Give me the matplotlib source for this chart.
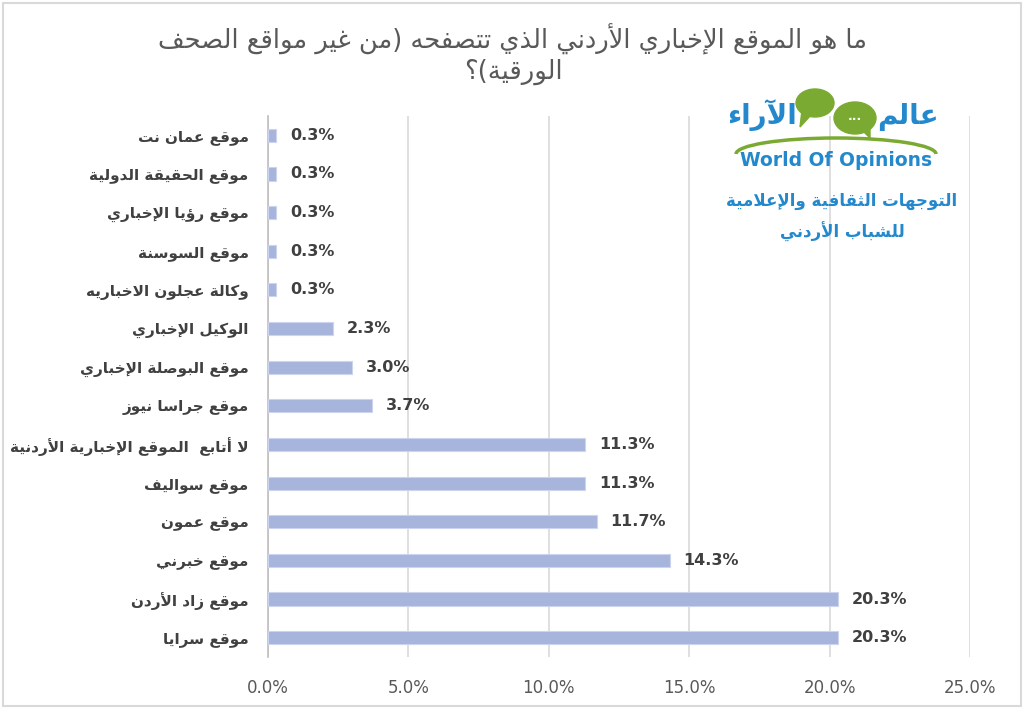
import numpy as np
import matplotlib.pyplot as plt
from matplotlib.patches import Ellipse, Polygon, Arc, Rectangle
from matplotlib.ticker import FuncFormatter

plt.rcParams['font.family'] = ['DejaVu Sans']

# data, top row first
sites = [
    "موقع عمان نت",
    "موقع الحقيقة الدولية",
    "موقع رؤيا الإخباري",
    "موقع السوسنة",
    "وكالة عجلون الاخباريه",
    "الوكيل الإخباري",
    "موقع البوصلة الإخباري",
    "موقع جراسا نيوز",
    "لا أتابع  الموقع الإخبارية الأردنية",
    "موقع سواليف",
    "موقع عمون",
    "موقع خبرني",
    "موقع زاد الأردن",
    "موقع سرايا",
]
shares = [0.3, 0.3, 0.3, 0.3, 0.3, 2.3, 3.0, 3.7, 11.3, 11.3, 11.7, 14.3, 20.3, 20.3]
xticks = [0, 5, 10, 15, 20, 25]

title_lines = ["ما هو الموقع الإخباري الأردني الذي تتصفحه (من غير مواقع الصحف",
               "الورقية)؟"]
logo_word1 = "عالم"
logo_word2 = "الآراء"
logo_en = "World Of Opinions"
sub_lines = ["التوجهات الثقافية والإعلامية", "للشباب الأردني"]


# matplotlib has no arabic shaping, so do it by hand with presentation forms
BASE = {
    'ء': (0xFE80, 1), 'آ': (0xFE81, 2), 'أ': (0xFE83, 2), 'ؤ': (0xFE85, 2),
    'إ': (0xFE87, 2), 'ئ': (0xFE89, 4), 'ا': (0xFE8D, 2), 'ب': (0xFE8F, 4),
    'ة': (0xFE93, 2), 'ت': (0xFE95, 4), 'ث': (0xFE99, 4), 'ج': (0xFE9D, 4),
    'ح': (0xFEA1, 4), 'خ': (0xFEA5, 4), 'د': (0xFEA9, 2), 'ذ': (0xFEAB, 2),
    'ر': (0xFEAD, 2), 'ز': (0xFEAF, 2), 'س': (0xFEB1, 4), 'ش': (0xFEB5, 4),
    'ص': (0xFEB9, 4), 'ض': (0xFEBD, 4), 'ط': (0xFEC1, 4), 'ظ': (0xFEC5, 4),
    'ع': (0xFEC9, 4), 'غ': (0xFECD, 4), 'ف': (0xFED1, 4), 'ق': (0xFED5, 4),
    'ك': (0xFED9, 4), 'ل': (0xFEDD, 4), 'م': (0xFEE1, 4), 'ن': (0xFEE5, 4),
    'ه': (0xFEE9, 4), 'و': (0xFEED, 2), 'ى': (0xFEEF, 2), 'ي': (0xFEF1, 4),
}
LAM_ALEF = {'ا': 0xFEFB, 'أ': 0xFEF7, 'إ': 0xFEF9, 'آ': 0xFEF5}


def nforms(c):
    if isinstance(c, tuple):
        return 2
    return BASE[c][1] if c in BASE else 0


def ar(text):
    chars = []
    i = 0
    while i < len(text):
        c = text[i]
        if c == 'ل' and i + 1 < len(text) and text[i + 1] in LAM_ALEF:
            chars.append(('LA', text[i + 1]))
            i += 2
        else:
            chars.append(c)
            i += 1
    out = []
    for k, c in enumerate(chars):
        prev = chars[k - 1] if k > 0 else None
        nxt = chars[k + 1] if k + 1 < len(chars) else None
        jp = prev is not None and nforms(prev) == 4 and nforms(c) >= 2
        jn = nxt is not None and nforms(c) == 4 and nforms(nxt) >= 2
        if isinstance(c, tuple):
            out.append(chr(LAM_ALEF[c[1]] + (1 if jp else 0)))
        elif c in BASE:
            b, n = BASE[c]
            if n == 1:
                off = 0
            elif n == 2:
                off = 1 if jp else 0
            else:
                off = {(False, False): 0, (True, False): 1,
                       (False, True): 2, (True, True): 3}[(jp, jn)]
            out.append(chr(b + off))
        else:
            out.append(c)
    vis = ''.join(reversed(out))
    return vis.translate(str.maketrans('()', ')('))


W, H = 1024, 709


def px(x, y):
    return (x / W, 1 - y / H)


fig = plt.figure(figsize=(10.24, 7.09), dpi=100)
ax = fig.add_axes([268 / W, 1 - 657 / H, (970 - 268) / W, (657 - 116) / H])

y = np.arange(len(sites))
ax.barh(y, shares, height=0.34, color='#A7B5DC', edgecolor='#CDD5EE', linewidth=0.8, zorder=3)
ax.set_ylim(len(sites) - 0.5, -0.5)
ax.set_xlim(0, 25)
ax.set_xticks(xticks)
ax.xaxis.set_major_formatter(FuncFormatter(lambda v, p: f"{v:.1f}%"))
ax.set_yticks(y)
ax.set_yticklabels([ar(s) for s in sites], fontweight='bold', fontsize=11, color='#404040')
ax.tick_params(axis='x', length=0, pad=16, labelsize=12, labelcolor='#595959')
ax.tick_params(axis='y', length=0, pad=14)
ax.grid(axis='x', color='#D9D9D9', linewidth=1.2, zorder=0)
for s in ['top', 'right', 'bottom']:
    ax.spines[s].set_visible(False)
ax.spines['left'].set_color('#BFBFBF')
ax.spines['left'].set_linewidth(1.2)

for i, v in enumerate(shares):
    ax.annotate(f"{v:.1f}%", (v, i), xytext=(10, 0), textcoords='offset points',
                va='center', ha='left', fontsize=11.5, fontweight='bold', color='#404040')

# title
fig.text(*px(513, 39), ar(title_lines[0]), ha='center', va='center', fontsize=18.5, color='#595959')
fig.text(*px(513, 72), ar(title_lines[1]), ha='center', va='center', fontsize=18.5, color='#595959')

# logo
blue = '#2389CC'
green = '#7BAA32'
tf = fig.transFigure
fig.patches.append(Ellipse(px(815, 103), 38 / W, 28 / H, color=green, transform=tf))
fig.patches.append(Polygon([px(802, 110), px(812, 114), px(800, 127)], color=green, transform=tf))
fig.patches.append(Ellipse(px(855, 118), 42 / W, 32 / H, color=green, transform=tf))
fig.patches.append(Polygon([px(860, 128), px(870, 126), px(870, 138)], color=green, transform=tf))
fig.text(*px(855, 117), "...", ha='center', va='center', fontsize=9, color='white', fontweight='bold')
fig.patches.append(Arc(px(836, 154), 200 / W, 32 / H, theta1=0, theta2=180,
                       color=green, linewidth=2.5, transform=tf))
fig.text(*px(908, 117), ar(logo_word1), ha='center', va='center', fontsize=20,
         fontweight='bold', color=blue)
fig.text(*px(762, 115), ar(logo_word2), ha='center', va='center', fontsize=20,
         fontweight='bold', color=blue)
fig.text(*px(836, 160), logo_en, ha='center', va='center', fontsize=13.5,
         fontweight='bold', color=blue)
fig.text(*px(842, 201), ar(sub_lines[0]), ha='center', va='center', fontsize=12,
         fontweight='bold', color=blue)
fig.text(*px(842, 232), ar(sub_lines[1]), ha='center', va='center', fontsize=12,
         fontweight='bold', color=blue)

# outer frame
fig.patches.append(Rectangle((3 / W, 3 / H), 1 - 6 / W, 1 - 6 / H, fill=False,
                             edgecolor='#D9D9D9', linewidth=1.5, transform=tf))

fig.savefig('out.png', dpi=100)
